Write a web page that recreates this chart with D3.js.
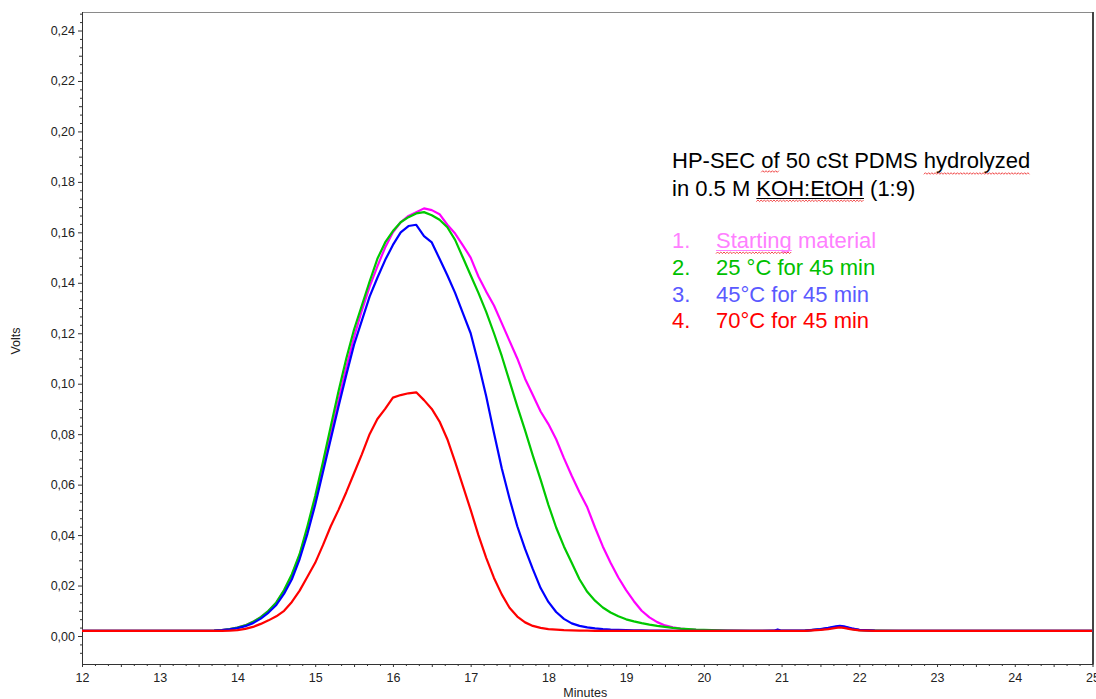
<!DOCTYPE html>
<html>
<head>
<meta charset="utf-8">
<script src="https://cdn.jsdelivr.net/npm/d3@7"></script>
<style>
  html, body { margin: 0; padding: 0; background: #fff; }
  svg { display: block; }
</style>
</head>
<body>
<svg id="chart" width="1096" height="699"></svg>
<script>
// ---------------- DATA ----------------
const minutes = [
  12, 13.5, 13.7, 13.8, 13.9,
  14.0, 14.1, 14.2, 14.3, 14.4, 14.5, 14.6, 14.7, 14.8, 14.9,
  15.0, 15.1, 15.2, 15.3, 15.4, 15.5, 15.6, 15.7, 15.8, 15.9,
  16.0, 16.1, 16.2, 16.3, 16.4, 16.5, 16.6, 16.7, 16.8, 16.9,
  17.0, 17.1, 17.2, 17.3, 17.4, 17.5, 17.6, 17.7, 17.8, 17.9,
  18.0, 18.1, 18.2, 18.3, 18.4, 18.5, 18.6, 18.7, 18.8, 18.9,
  19.0, 19.1, 19.2, 19.3, 19.4, 19.5, 19.6, 19.7, 19.8, 19.9,
  20.0, 20.3, 20.6, 20.9, 20.95, 21.0, 21.3, 21.5, 21.6, 21.7, 21.75, 21.8, 21.9, 22.0, 22.2, 22.5, 25
];

const startingMaterial = [
  .0020, .0020, .0021, .0023, .0027,
  .0033, .0042, .0056, .0075, .0100, .0132, .0180, .0240, .0320, .0425,
  .0540, .0670, .0800, .0935, .1065, .1185, .1290, .1385, .1465, .1540,
  .1600, .1640, .1665, .1680, .1695, .1688, .1672, .1630, .1595, .1548,
  .1500, .1425, .1365, .1310, .1240, .1170, .1100, .1020, .0955, .0890,
  .0840, .0780, .0705, .0635, .0570, .0510, .0430, .0355, .0290, .0232,
  .0182, .0138, .0100, .0074, .0055, .0042, .0034, .0029, .0026, .0024,
  .0023, .0021, .0020, .0020, .0020, .0020, .0021, .0026, .0030, .0036, .0038, .0036, .0029, .0024, .0021, .0020, .0020
];

const c25for45 = [
  .0020, .0020, .0021, .0023, .0027,
  .0033, .0042, .0056, .0075, .0100, .0133, .0182, .0245, .0325, .0435,
  .0555, .0690, .0830, .0970, .1100, .1215, .1310, .1405, .1495, .1560,
  .1605, .1640, .1660, .1675, .1680, .1668, .1650, .1620, .1570, .1500,
  .1430, .1360, .1285, .1200, .1110, .1010, .0910, .0815, .0715, .0620,
  .0520, .0430, .0355, .0290, .0225, .0175, .0140, .0113, .0093, .0078,
  .0066, .0058, .0051, .0045, .0040, .0036, .0032, .0029, .0027, .0025,
  .0024, .0021, .0020, .0020, .0020, .0020, .0021, .0026, .0030, .0035, .0037, .0035, .0028, .0023, .0021, .0020, .0020
];

const c45for45 = [
  .0020, .0020, .0021, .0023, .0026,
  .0031, .0039, .0051, .0069, .0093, .0123, .0168, .0225, .0305, .0405,
  .0520, .0650, .0780, .0910, .1035, .1155, .1250, .1345, .1420, .1490,
  .1550, .1600, .1625, .1630, .1585, .1560, .1495, .1430, .1360, .1280,
  .1200, .1080, .0950, .0805, .0665, .0545, .0435, .0345, .0265, .0190,
  .0135, .0095, .0068, .0050, .0040, .0034, .0030, .0027, .0025, .0024,
  .0023, .0022, .0022, .0021, .0021, .0021, .0020, .0020, .0020, .0020,
  .0020, .0020, .0020, .0021, .0026, .0021, .0021, .0027, .0032, .0038, .0040, .0038, .0030, .0024, .0021, .0020, .0020
];

const c70for45 = [
  .0020, .0020, .0020, .0020, .0021,
  .0023, .0028, .0036, .0048, .0062, .0078, .0100, .0135, .0180, .0235,
  .0290, .0360, .0435, .0500, .0570, .0645, .0720, .0800, .0860, .0900,
  .0945, .0955, .0962, .0966, .0935, .0900, .0850, .0780, .0690, .0595,
  .0500, .0400, .0310, .0230, .0165, .0112, .0077, .0054, .0040, .0032,
  .0027, .0025, .0023, .0022, .0021, .0021, .0020, .0020, .0020, .0020,
  .0020, .0020, .0020, .0020, .0020, .0020, .0020, .0020, .0020, .0020,
  .0020, .0020, .0020, .0020, .0020, .0020, .0020, .0024, .0027, .0032, .0034, .0032, .0026, .0022, .0020, .0020, .0020
];

const xTicks = [12, 13, 14, 15, 16, 17, 18, 19, 20, 21, 22, 23, 24, 25];
const xTickLabels = ["12", "13", "14", "15", "16", "17", "18", "19", "20", "21", "22", "23", "24", "25"];
const yTicks = [0, 0.02, 0.04, 0.06, 0.08, 0.10, 0.12, 0.14, 0.16, 0.18, 0.20, 0.22, 0.24];
const yTickLabels = ["0,00", "0,02", "0,04", "0,06", "0,08", "0,10", "0,12", "0,14", "0,16", "0,18", "0,20", "0,22", "0,24"];

const titleLines = ["HP-SEC of 50 cSt PDMS hydrolyzed", "in 0.5 M KOH:EtOH (1:9)"];
const legendNumbers = ["1.", "2.", "3.", "4."];
const legendLabels = ["Starting material", "25 \u00B0C for 45 min", "45\u00B0C for 45 min", "70\u00B0C for 45 min"];
const xLabel = "Minutes";
const yLabel = "Volts";

// ---------------- STYLE / LAYOUT ----------------
const seriesList = [startingMaterial, c25for45, c45for45, c70for45];
const lineColors = ["#ff00ff", "#00c800", "#0000ff", "#ff0000"];
const legendColors = ["#ff80ff", "#00c000", "#5a5aff", "#ff0000"];
const FONT = "'Liberation Sans', Arial, sans-serif";

const svg = d3.select("#chart");
const plot = { left: 82, right: 1092.5, top: 12, bottom: 664 };
const x = d3.scaleLinear().domain([12, 25]).range([plot.left, plot.right]);
const y = d3.scaleLinear().domain([0, 0.24]).range([636, 30.5]);

// clip
svg.append("defs").append("clipPath").attr("id", "clip")
  .append("rect").attr("x", plot.left).attr("y", plot.top)
  .attr("width", plot.right - plot.left).attr("height", plot.bottom - plot.top);

// frame top & right
svg.append("line").attr("x1", plot.left).attr("x2", plot.right + 1)
  .attr("y1", plot.top + 0.5).attr("y2", plot.top + 0.5)
  .attr("stroke", "#8a8a8a").attr("stroke-width", 1);
svg.append("line").attr("x1", plot.right + 0.5).attr("x2", plot.right + 0.5)
  .attr("y1", plot.top).attr("y2", plot.bottom)
  .attr("stroke", "#444").attr("stroke-width", 2);

// ---------------- AXES ----------------
const yFrom = y.invert(plot.bottom), yTo = y.invert(plot.top);
const yMinor = d3.range(Math.ceil(yFrom / (0.02 / 6)) * (0.02 / 6), yTo, 0.02 / 6)
  .filter(v => Math.abs(Math.round(v / 0.01) * 0.01 - v) > 1e-6);
const yMid = d3.range(0.01, 0.25, 0.02);
const xMinor = d3.range(12, 25.001, 1 / 6)
  .filter(v => Math.abs(Math.round(v * 2) / 2 - v) > 1e-6);
const xMid = d3.range(12.5, 25, 1);

const axisColor = "#333";

function styleAxis(g) {
  g.select(".domain").remove();
  g.selectAll(".tick line").attr("stroke", axisColor);
  g.selectAll(".tick text").attr("fill", "#222").style("font-family", FONT).style("font-size", "12.5px");
}

// y axis
svg.append("g").attr("transform", `translate(${plot.left},0)`)
  .call(d3.axisLeft(y).tickValues(yMinor).tickSize(2).tickFormat(""))
  .call(styleAxis);
svg.append("g").attr("transform", `translate(${plot.left},0)`)
  .call(d3.axisLeft(y).tickValues(yMid).tickSize(3).tickFormat(""))
  .call(styleAxis);
svg.append("g").attr("transform", `translate(${plot.left},0)`)
  .call(d3.axisLeft(y).tickValues(yTicks).tickSize(4).tickPadding(3)
    .tickFormat((d, i) => yTickLabels[i]))
  .call(styleAxis);
svg.append("line").attr("x1", plot.left + 0.5).attr("x2", plot.left + 0.5)
  .attr("y1", plot.top).attr("y2", plot.bottom + 0.5)
  .attr("stroke", axisColor).attr("stroke-width", 1);

// x axis
svg.append("g").attr("transform", `translate(0,${plot.bottom})`)
  .call(d3.axisBottom(x).tickValues(xMinor).tickSize(2).tickFormat(""))
  .call(styleAxis);
svg.append("g").attr("transform", `translate(0,${plot.bottom})`)
  .call(d3.axisBottom(x).tickValues(xMid).tickSize(3).tickFormat(""))
  .call(styleAxis);
svg.append("g").attr("transform", `translate(0,${plot.bottom})`)
  .call(d3.axisBottom(x).tickValues(xTicks).tickSize(3).tickPadding(6)
    .tickFormat((d, i) => xTickLabels[i]))
  .call(styleAxis);
svg.append("line").attr("x1", plot.left).attr("x2", plot.right + 1)
  .attr("y1", plot.bottom + 0.5).attr("y2", plot.bottom + 0.5)
  .attr("stroke", axisColor).attr("stroke-width", 1);

// axis titles
svg.append("text").text(xLabel)
  .attr("x", (plot.left + plot.right) / 2 - 2).attr("y", 697)
  .attr("text-anchor", "middle").attr("fill", "#222")
  .style("font-family", FONT).style("font-size", "12.5px");
svg.append("text").text(yLabel)
  .attr("transform", `translate(20,${(plot.top + plot.bottom) / 2 + 3}) rotate(-90)`)
  .attr("text-anchor", "middle").attr("fill", "#222")
  .style("font-family", FONT).style("font-size", "12.5px");

// ---------------- LINES ----------------
const line = d3.line()
  .x((d, i) => x(minutes[i]))
  .y(d => y(d))
  .curve(d3.curveLinear);

const gLines = svg.append("g").attr("clip-path", "url(#clip)");
seriesList.forEach((s, k) => {
  if (s.length !== minutes.length) console.error("length mismatch", k, s.length, minutes.length);
  gLines.append("path").datum(s)
    .attr("d", line)
    .attr("fill", "none")
    .attr("stroke", lineColors[k])
    .attr("stroke-width", 2.2)
    .attr("stroke-linejoin", "round");
});

// ---------------- ANNOTATION ----------------
const tx = 672, ty1 = 168, ty2 = 196;
const titleSize = "22px";

function squiggle(textNode, word, dy) {
  const str = textNode.textContent;
  const i0 = str.indexOf(word);
  if (i0 < 0) return;
  const i1 = i0 + word.length - 1;
  const xs = textNode.getStartPositionOfChar(i0).x;
  const xe = textNode.getEndPositionOfChar(i1).x;
  const by = +textNode.getAttribute("y") + dy;
  const pts = [];
  let k = 0;
  for (let px = xs; px <= xe; px += 1.6, k++) pts.push([px, by + (k % 2 ? -0.8 : 0.8)]);
  svg.append("path").attr("d", d3.line()(pts)).attr("fill", "none")
    .attr("stroke", "#e33").attr("stroke-width", 0.9);
}
function underline(textNode, word, dy, color) {
  const str = textNode.textContent;
  const i0 = str.indexOf(word);
  const i1 = i0 + word.length - 1;
  const xs = textNode.getStartPositionOfChar(i0).x;
  const xe = textNode.getEndPositionOfChar(i1).x;
  const by = +textNode.getAttribute("y") + dy;
  svg.append("line").attr("x1", xs).attr("x2", xe).attr("y1", by).attr("y2", by)
    .attr("stroke", color).attr("stroke-width", 1.2);
}

const t1 = svg.append("text").text(titleLines[0]).attr("x", tx).attr("y", ty1)
  .attr("fill", "#000").style("font-family", FONT).style("font-size", titleSize);
const t2 = svg.append("text").text(titleLines[1]).attr("x", tx).attr("y", ty2)
  .attr("fill", "#000").style("font-family", FONT).style("font-size", titleSize);

squiggle(t1.node(), "of", 3.5);
squiggle(t1.node(), "hydrolyzed", 5.5);
underline(t2.node(), "KOH:EtOH", 2.5, "#000");
squiggle(t2.node(), "KOH:EtOH", 4.8);

const legY = [248, 275, 302, 328];
legendLabels.forEach((lab, i) => {
  svg.append("text").text(legendNumbers[i]).attr("x", tx).attr("y", legY[i])
    .attr("fill", legendColors[i]).style("font-family", FONT).style("font-size", titleSize);
  const t = svg.append("text").text(lab).attr("x", 716).attr("y", legY[i])
    .attr("fill", legendColors[i]).style("font-family", FONT).style("font-size", titleSize);
  if (i === 0) {
    underline(t.node(), "Starting", 2.5, legendColors[0]);
    squiggle(t.node(), "Starting", 4.8);
  }
});
</script>
</body>
</html>
